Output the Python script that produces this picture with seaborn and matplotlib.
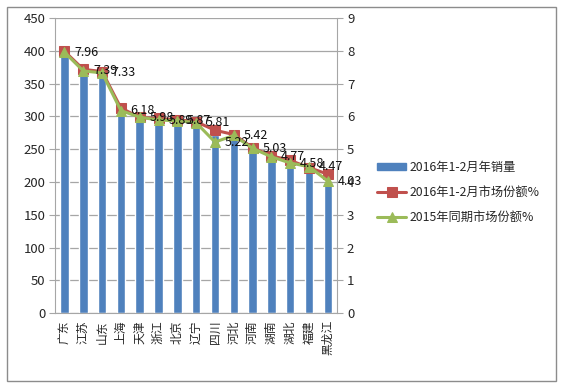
import numpy as np
import matplotlib
matplotlib.use("Agg")
import matplotlib.pyplot as plt
import seaborn as sns
from matplotlib.patches import Rectangle, Patch

# Data
provinces = ["广东", "江苏", "山东", "上海", "天津", "浙江", "北京", "辽宁",
             "四川", "河北", "河南", "湖南", "湖北", "福建", "黑龙江"]
sales_2016 = [395, 366, 360, 304, 293, 290, 289, 286, 272, 268, 248, 236, 228, 218, 196]
share_2016 = [7.99, 7.44, 7.37, 6.26, 5.97, 5.94, 5.90, 5.84, 5.58, 5.45, 5.05, 4.80, 4.66, 4.44, 4.24]
share_2015 = [7.96, 7.39, 7.33, 6.18, 5.98, 5.89, 5.87, 5.81, 5.22, 5.42, 5.03, 4.77, 4.58, 4.47, 4.03]

left_ticks = [0, 50, 100, 150, 200, 250, 300, 350, 400, 450]
right_ticks = [0, 1, 2, 3, 4, 5, 6, 7, 8, 9]

label_bar = "2016年1-2月年销量"
label_red = "2016年1-2月市场份额%"
label_green = "2015年同期市场份额%"

BLUE = "#4F81BD"
RED = "#C0504D"
GREEN = "#9BBB59"
GRID = "#A6A6A6"

sns.set_style("white")
plt.rcParams["font.family"] = ["Noto Sans CJK SC", "DejaVu Sans"]
plt.rcParams["font.size"] = 9

fig = plt.figure(figsize=(5.62, 3.87), dpi=100)
fig.patches.append(Rectangle((0.012, 0.015), 0.977, 0.968, transform=fig.transFigure,
                             fill=False, edgecolor="#8C8C8C", linewidth=1.0))

ax = fig.add_axes([0.098, 0.191, 0.502, 0.762])
pos = np.arange(len(provinces))

sns.barplot(x=provinces, y=sales_2016, color=BLUE, saturation=1, width=0.45, ax=ax, zorder=2)
ax.set_ylim(0, 450)
ax.set_yticks(left_ticks)
ax.grid(axis="y", color=GRID, linewidth=0.9, zorder=0)
ax.set_axisbelow(True)
ax.set_xlim(-0.5, len(provinces) - 0.5)
ax.set_xticks(pos)
ax.set_xticklabels(provinces, rotation=90, va="top", ha="center", fontsize=8.5)
ax.set_xticks(np.arange(len(provinces) + 1) - 0.5, minor=True)
ax.tick_params(axis="x", which="major", length=0, pad=5)
ax.tick_params(axis="x", which="minor", length=4, color=GRID, direction="out")
ax.tick_params(axis="y", length=4, color=GRID, direction="out", left=True, pad=3, labelsize=9.5)
ax.set_xlabel("")
ax.set_ylabel("")
for s in ["left", "bottom"]:
    ax.spines[s].set_color(GRID)
ax.spines["top"].set_visible(False)
ax.spines["right"].set_visible(False)

ax2 = ax.twinx()
sns.lineplot(x=pos, y=share_2016, color=RED, marker="s", markersize=7, linewidth=2.2,
             markeredgecolor=RED, ax=ax2, label=label_red, sort=False)
sns.lineplot(x=pos, y=share_2015, color=GREEN, marker="^", markersize=7, linewidth=2.2,
             markeredgecolor=GREEN, ax=ax2, label=label_green, sort=False)
ax2.set_ylim(0, 9)
ax2.set_yticks(right_ticks)
ax2.tick_params(axis="y", length=4, color=GRID, direction="out", right=True, pad=3, labelsize=9.5)
ax2.spines["right"].set_color(GRID)
ax2.spines["top"].set_visible(False)
ax2.spines["left"].set_visible(False)
ax2.spines["bottom"].set_visible(False)
ax2.set_ylabel("")

# data labels sit to the right of the 2015 points
for x, v in zip(pos, share_2015):
    ax2.annotate(f"{v:.2f}", (x, v), xytext=(7, 0), textcoords="offset points",
                 ha="left", va="center", fontsize=9, color="#111111")

bar_handle = Patch(facecolor=BLUE, edgecolor=BLUE)
handles, _ = ax2.get_legend_handles_labels()
ax2.legend([bar_handle] + handles, [label_bar, label_red, label_green],
           loc="upper left", bbox_to_anchor=(0.662, 0.597), bbox_transform=fig.transFigure,
           frameon=False, fontsize=8.8, handlelength=2.4, handleheight=0.6, labelspacing=1.0,
           handletextpad=0.25, borderaxespad=0)

fig.savefig("out.png", dpi=100, facecolor="white")
